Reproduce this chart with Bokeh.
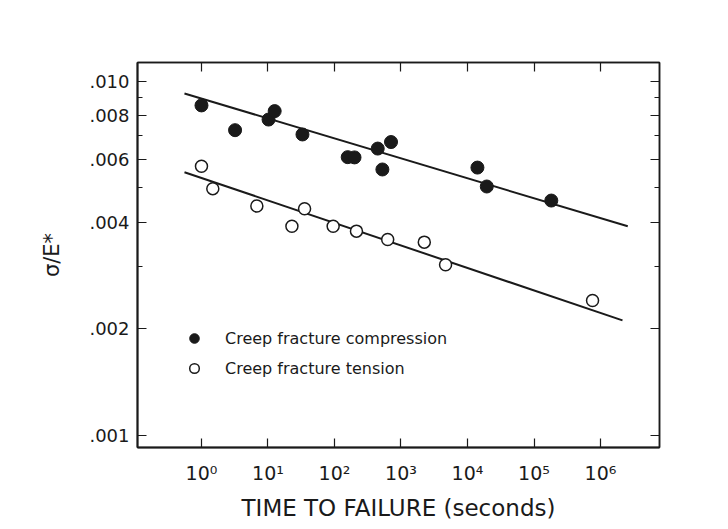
from bokeh.plotting import figure
from bokeh.models import (LogAxis, FixedTicker, CustomJSTickFormatter, Legend,
                          LegendItem, Range1d)
from bokeh.embed import file_html
from bokeh.resources import INLINE

# ---- data ----
comp_time = [1.0, 3.2, 10.2, 12.6, 33, 158, 200, 447, 708, 525, 14100, 19500, 182000]
comp_stress = [0.00854, 0.00727, 0.00779, 0.00823, 0.00707, 0.00610, 0.00609,
               0.00645, 0.00673, 0.00563, 0.00570, 0.00504, 0.00460]

tens_time = [1.0, 1.48, 6.8, 35.5, 22.9, 95.5, 214, 631, 2240, 4680, 759000]
tens_stress = [0.00575, 0.00497, 0.00444, 0.00436, 0.00389, 0.00389, 0.00377,
               0.00357, 0.00351, 0.00303, 0.00240]

fit_time = [0.555, 2.57e6]
fit_comp = [0.00923, 0.00389]
fit_time_t = [0.555, 2.14e6]
fit_tens = [0.00553, 0.00211]

x_ticks = [1, 10, 100, 1000, 10000, 100000, 1000000]
x_tick_labels = ["10\u2070", "10\u00b9", "10\u00b2", "10\u00b3", "10\u2074", "10\u2075", "10\u2076"]
y_ticks = [0.010, 0.008, 0.006, 0.004, 0.002, 0.001]
y_tick_labels = [".010", ".008", ".006", ".004", ".002", ".001"]
y_minor = [0.009, 0.007, 0.005, 0.003]

labels = ["Creep fracture compression", "Creep fracture tension"]

FONT = "DejaVu Sans"
INK = "#1a1a1a"

p = figure(frame_width=522, frame_height=385, x_axis_type="log", y_axis_type="log",
           x_range=Range1d(10 ** -0.962, 10 ** 6.887),
           y_range=Range1d(0.000923, 0.01129),
           output_backend="svg", toolbar_location=None,
           min_border_left=137, min_border_right=50,
           min_border_top=62, min_border_bottom=10)
p.xgrid.visible = False
p.ygrid.visible = False
p.outline_line_color = INK
p.outline_line_width = 1.5
p.background_fill_color = "white"
p.border_fill_color = "white"

code = """
const i = tv.findIndex(t => Math.abs(Math.log10(t) - Math.log10(tick)) < 1e-6);
return i >= 0 ? lv[i] : ' ';
"""
xfmt = CustomJSTickFormatter(args=dict(tv=x_ticks, lv=x_tick_labels), code=code)
yfmt = CustomJSTickFormatter(args=dict(tv=y_ticks, lv=y_tick_labels), code=code)


def style(ax):
    ax.axis_line_color = INK
    ax.axis_line_width = 2
    ax.major_tick_in = 9
    ax.major_tick_out = 0
    ax.minor_tick_in = 5
    ax.minor_tick_out = 0
    ax.major_tick_line_color = INK
    ax.minor_tick_line_color = INK
    ax.major_tick_line_width = 1.2
    ax.minor_tick_line_width = 1


xa = p.xaxis[0]
xa.ticker = FixedTicker(ticks=x_ticks, minor_ticks=[])
xa.formatter = xfmt
style(xa)
xa.major_label_text_font = FONT
xa.major_label_text_font_size = "19px"
xa.major_label_text_color = INK
xa.major_label_standoff = 14
xa.axis_label = "TIME TO FAILURE (seconds)"
xa.axis_label_text_font = FONT
xa.axis_label_text_font_size = "23px"
xa.axis_label_text_font_style = "normal"
xa.axis_label_text_color = INK
xa.axis_label_standoff = 8

ya = p.yaxis[0]
ya.ticker = FixedTicker(ticks=y_ticks, minor_ticks=y_minor)
ya.formatter = yfmt
style(ya)
ya.major_label_text_font = FONT
ya.major_label_text_font_size = "18px"
ya.major_label_text_color = INK
ya.major_label_standoff = 8
ya.axis_label = "\u03c3/E*"
ya.axis_label_text_font = FONT
ya.axis_label_text_font_size = "21px"
ya.axis_label_text_font_style = "normal"
ya.axis_label_text_color = INK
ya.axis_label_standoff = 22

top = LogAxis(ticker=FixedTicker(ticks=x_ticks, minor_ticks=[]),
              major_label_text_alpha=0, major_label_text_font_size="8px")
style(top)
top.axis_line_width = 1.5
p.add_layout(top, "above")
right = LogAxis(ticker=FixedTicker(ticks=y_ticks, minor_ticks=y_minor),
                major_label_text_alpha=0, major_label_text_font_size="8px")
style(right)
right.axis_line_width = 1.5
p.add_layout(right, "right")

p.line(fit_time, fit_comp, line_width=2, color=INK)
p.line(fit_time_t, fit_tens, line_width=2, color=INK)

r1 = p.scatter(comp_time, comp_stress, marker="circle", size=13,
               fill_color=INK, line_color=INK)
r2 = p.scatter(tens_time, tens_stress, marker="circle", size=12,
               fill_color="white", line_color=INK, line_width=1.5)

legend = Legend(items=[LegendItem(label=labels[0], renderers=[r1]),
                       LegendItem(label=labels[1], renderers=[r2])],
                location=(35, 57), glyph_width=24, glyph_height=24,
                label_standoff=19, spacing=6, padding=10,
                border_line_alpha=0, background_fill_alpha=0,
                label_text_font=FONT, label_text_font_size="16px",
                label_text_color=INK)
p.add_layout(legend)

open("out.html", "w").write(file_html(p, INLINE))
